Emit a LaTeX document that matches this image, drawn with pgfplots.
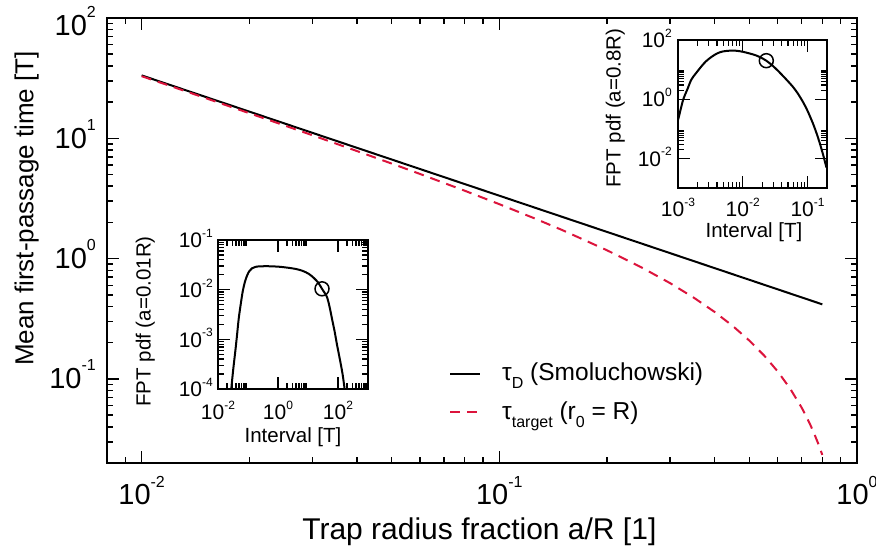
\documentclass[border=0pt]{standalone}
\usepackage{pgfplots}
\pgfplotsset{compat=1.18}
\usepackage{fontspec}
\setmainfont{Liberation Sans}
\definecolor{crim}{RGB}{220,20,60}
\newcommand{\mt}[1]{10\raisebox{0.62em}{\fontsize{16}{16}\selectfont #1}}
\newcommand{\itk}[1]{10\raisebox{0.5em}{\fontsize{12}{12}\selectfont #1}}
\newcommand{\sub}[1]{\raisebox{-0.33em}{\fontsize{16}{16}\selectfont #1}}
\begin{document}
\begin{tikzpicture}
\useasboundingbox (0pt,0pt) rectangle (876pt,548pt);
% ---------------- main axis ----------------
\begin{axis}[
  at={(107pt,85pt)}, anchor=south west, scale only axis,
  width=750pt, height=445pt,
  xmode=log, ymode=log, xmin=0.008, xmax=1, ymin=0.02, ymax=100,
  axis line style={line width=2pt},
  every tick/.style={black, line width=1.5pt},
  major tick length=12pt, minor tick length=6pt,
  tick align=inside,
  xtick={0.01,0.1,1}, xticklabels={\mt{-2},\mt{-1},\mt{0}},
  minor xtick={0.009,0.02,0.03,0.04,0.05,0.06,0.07,0.08,0.09,0.2,0.3,0.4,0.5,0.6,0.7,0.8,0.9},
  ytick={0.1,1,10,100}, yticklabels={\mt{-1},\mt{0},\mt{1},\raisebox{-7pt}{\mt{2}}},
  minor ytick={0.03,0.04,0.05,0.06,0.07,0.08,0.09,0.2,0.3,0.4,0.5,0.6,0.7,0.8,0.9,2,3,4,5,6,7,8,9,20,30,40,50,60,70,80,90},
  xticklabel style={font=\fontsize{29}{29}\selectfont, anchor=base, inner sep=0pt, yshift=-42pt},
  yticklabel style={font=\fontsize{29}{29}\selectfont, anchor=base east, inner sep=0pt, xshift=-11pt, yshift=-10pt},
  xlabel={Trap radius fraction a/R [1]},
  xlabel style={font=\fontsize{30}{30}\selectfont, at={(axis description cs:0.4965,-0.17146)}, anchor=base, inner sep=0pt},
  ylabel={Mean first-passage time [T]},
  ylabel style={font=\fontsize{26}{26}\selectfont, at={(axis description cs:-0.09827,0.572)}, anchor=base, inner sep=0pt},
  legend cell align=left,
  legend image code/.code={\draw[#1] (0pt,0pt) -- (30pt,0pt);},
  legend style={draw=none, fill=none, at={(axis description cs:0.456,0.2234)}, anchor=north west,
    inner sep=0pt, row sep=18.3pt, column sep=21pt, font=\fontsize{24.5}{24.5}\selectfont,
    nodes={inner sep=0pt, text height=17pt, text depth=3pt}},
]
\addplot[black, line width=2pt] coordinates {(0.01,33.333) (0.1,3.3333) (0.8,0.41667)};
\addlegendentry{τ\sub{D} (Smoluchowski)}
\addplot[crim, line width=2pt, dash pattern=on 10pt off 7pt] coordinates {
(0.01,32.833) (0.0125,26.167) (0.015,21.722) (0.02,16.167) (0.025,12.833) (0.03,10.611)
(0.04,7.834) (0.05,6.167) (0.06,5.056) (0.08,3.668) (0.1,2.835) (0.125,2.169) (0.15,1.726)
(0.2,1.1733) (0.25,0.84375) (0.3,0.62611) (0.35,0.4728) (0.4,0.36) (0.45,0.27449) (0.5,0.20833)
(0.55,0.15648) (0.6,0.11556) (0.65,0.08324) (0.7,0.05786) (0.72,0.04936) (0.74,0.04172)
(0.76,0.03486) (0.78,0.02875) (0.8,0.02333)};
\addlegendentry{τ\sub{target} (r\sub{0} = R)}
\end{axis}
% ---------------- inset a = 0.8R ----------------
\begin{axis}[
  at={(678pt,360pt)}, anchor=south west, scale only axis,
  width=149pt, height=148pt,
  xmode=log, ymode=log, xmin=0.001, xmax=0.2, ymin=0.001, ymax=100,
  axis line style={line width=1.5pt},
  every tick/.style={black, line width=1.2pt},
  major tick length=12pt, minor tick length=6pt,
  tick align=inside,
  xtick={0.001,0.01,0.1}, xticklabels={\itk{-3},\itk{-2},\itk{-1}},
  minor xtick={0.002,0.003,0.004,0.005,0.006,0.007,0.008,0.009,0.02,0.03,0.04,0.05,0.06,0.07,0.08,0.09,0.2},
  ytick={0.01,1,100}, yticklabels={\itk{-2},\itk{0},\itk{2}},
  minor ytick={0.02,0.03,0.04,0.05,0.06,0.07,0.08,0.09,2,3,4,5,6,7,8,9},
  xticklabel style={font=\fontsize{21}{21}\selectfont, anchor=base, inner sep=0pt, yshift=-29pt},
  yticklabel style={font=\fontsize{21}{21}\selectfont, anchor=base east, inner sep=0pt, xshift=-6pt, yshift=-7.7pt},
  xlabel={Interval [T]},
  xlabel style={font=\fontsize{20.5}{20.5}\selectfont, at={(axis description cs:0.51,-0.3358)}, anchor=base, inner sep=0pt},
  ylabel={FPT pdf (a=0.8R)},
  ylabel style={font=\fontsize{20.5}{20.5}\selectfont, at={(axis description cs:-0.3846,0.54)}, anchor=base, inner sep=0pt},
]
\addplot[black, line width=2pt, smooth] coordinates {
(0.00094,0.115) (0.00105,0.30) (0.0012,0.95) (0.0014,2.2) (0.00161,4.6) (0.0019,7.6)
(0.00231,13) (0.0027,19) (0.0033,27) (0.004,35) (0.0048,40.5) (0.0058,43) (0.0068,44)
(0.0082,43) (0.01,40) (0.0125,35.5) (0.0158,30.5) (0.019,25.5) (0.0231,20) (0.029,13.5)
(0.0363,8.4) (0.046,4.89) (0.059,2.68) (0.07,1.62) (0.0845,0.83) (0.1,0.406) (0.121,0.154)
(0.138,0.0704) (0.154,0.0337) (0.175,0.0128) (0.196,0.0049)};
\addplot[black, only marks, mark=o, mark size=7pt, mark options={line width=1.5pt}] coordinates {(0.0231,20)};
\end{axis}
% ---------------- inset a = 0.01R ----------------
\begin{axis}[
  at={(218pt,159pt)}, anchor=south west, scale only axis,
  width=150pt, height=149pt,
  xmode=log, ymode=log, xmin=0.01, xmax=1000, ymin=0.0001, ymax=0.1,
  axis line style={line width=1.5pt},
  every tick/.style={black, line width=1.2pt},
  major tick length=12pt, minor tick length=6pt,
  tick align=inside,
  xtick={0.01,1,100}, xticklabels={\itk{-2},\itk{0},\itk{2}},
  minor xtick={0.02,0.03,0.04,0.05,0.06,0.07,0.08,0.09,2,3,4,5,6,7,8,9,200,300,400,500,600,700,800,900},
  ytick={0.0001,0.001,0.01,0.1}, yticklabels={\itk{-4},\itk{-3},\itk{-2},\itk{-1}},
  minor ytick={0.0002,0.0003,0.0004,0.0005,0.0006,0.0007,0.0008,0.0009,0.002,0.003,0.004,0.005,0.006,0.007,0.008,0.009,0.02,0.03,0.04,0.05,0.06,0.07,0.08,0.09},
  xticklabel style={font=\fontsize{21}{21}\selectfont, anchor=base, inner sep=0pt, yshift=-31pt},
  yticklabel style={font=\fontsize{21}{21}\selectfont, anchor=base east, inner sep=0pt, xshift=-5pt, yshift=-8pt},
  xlabel={Interval [T]},
  xlabel style={font=\fontsize{20.5}{20.5}\selectfont, at={(axis description cs:0.5,-0.3604)}, anchor=base, inner sep=0pt},
  ylabel={FPT pdf (a=0.01R)},
  ylabel style={font=\fontsize{20.5}{20.5}\selectfont, at={(axis description cs:-0.4487,0.453)}, anchor=base, inner sep=0pt},
]
\addplot[black, line width=2pt, smooth] coordinates {
(0.026,0.00006) (0.0277,0.0001) (0.032,0.00024) (0.0378,0.00058) (0.043,0.0012) (0.049,0.0026)
(0.057,0.005) (0.066,0.0089) (0.078,0.014) (0.093,0.0192) (0.11,0.0235) (0.136,0.0269)
(0.18,0.0288) (0.257,0.0295) (0.5,0.0296) (1.05,0.029) (2,0.0278) (3.8,0.0262) (6.5,0.024)
(10.5,0.0209) (16,0.017) (22,0.0138) (29.3,0.0104) (36,0.0086) (43,0.0071) (52,0.0046)
(63,0.0026) (77,0.00145) (92.6,0.00078) (115,0.0004) (142,0.0002) (166,0.0001) (185,0.000055)};
\addplot[black, only marks, mark=o, mark size=7pt, mark options={line width=1.5pt}] coordinates {(29.3,0.0104)};
\end{axis}
\end{tikzpicture}
\end{document}
